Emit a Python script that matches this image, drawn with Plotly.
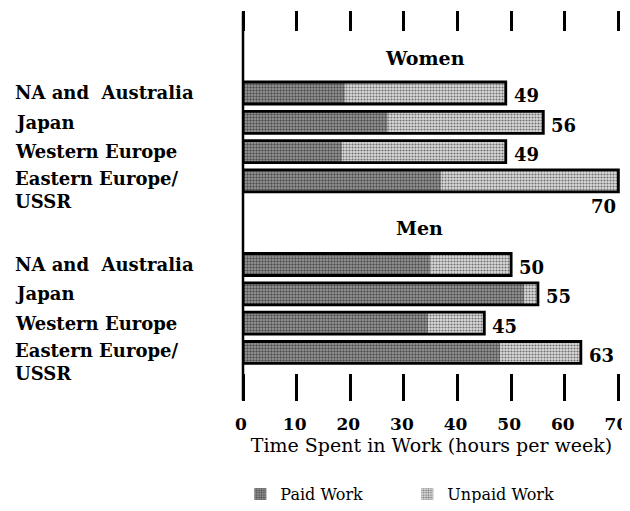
import plotly.graph_objects as go

regions = ["NA and  Australia", "Japan", "Western Europe", "Eastern Europe/<br>USSR"]
groups = ["Women", "Men"]
women_paid = [19, 27, 18.5, 37]
women_unpaid = [30, 29, 30.5, 33]
women_total = [49, 56, 49, 70]
men_paid = [35, 52.5, 34.5, 48]
men_unpaid = [15, 2.5, 10.5, 15]
men_total = [50, 55, 45, 63]
x_ticks = [0, 10, 20, 30, 40, 50, 60, 70]

FONT = "DejaVu Serif"
GROUP_OFFSET = 5.85
X_RANGE = [0, 70.3]

rows_w = [i for i in range(len(regions))]
rows_m = [i + GROUP_OFFSET for i in range(len(regions))]
rows = rows_w + rows_m
paid = women_paid + men_paid
unpaid = women_unpaid + men_unpaid
total = women_total + men_total

fig = go.Figure()
fig.add_trace(go.Bar(
    y=rows, x=paid, orientation="h", name="Paid Work", width=0.75,
    marker=dict(color="#8c8c8c", line=dict(width=0),
                pattern=dict(shape=".", fgcolor="#000000", bgcolor="#a0a0a0", size=3, solidity=0.5)),
))
fig.add_trace(go.Bar(
    y=rows, x=unpaid, base=paid, orientation="h", name="Unpaid Work", width=0.75,
    marker=dict(color="#c8c8c8", line=dict(width=0),
                pattern=dict(shape=".", fgcolor="#000000", bgcolor="#dcdcdc", size=3, solidity=0.4)),
))
fig.add_trace(go.Bar(
    y=rows, x=total, orientation="h", showlegend=False, width=0.75,
    marker=dict(color="rgba(0,0,0,0)", line=dict(color="black", width=2.8)),
    hoverinfo="skip",
))
# invisible trace for top axis
fig.add_trace(go.Scatter(x=[0, 70], y=[0, 0], xaxis="x2", mode="markers",
                         marker=dict(opacity=0), showlegend=False, hoverinfo="skip"))

annotations = []
# row labels
for i, lab in enumerate(regions):
    for r in (rows_w[i], rows_m[i]):
        two = "<br>" in lab
        annotations.append(dict(
            x=-0.61, xref="paper", y=r + (0.31 if two else 0), yref="y",
            text="<b>" + lab + "</b>", showarrow=False, xanchor="left", yanchor="middle",
            align="left", font=dict(family=FONT, size=18, color="black")))
# group headings
annotations.append(dict(x=34, y=-1.19, xref="x", yref="y", text="<b>" + groups[0] + "</b>",
                        showarrow=False, font=dict(family=FONT, size=19, color="black")))
annotations.append(dict(x=33, y=4.6, xref="x", yref="y", text="<b>" + groups[1] + "</b>",
                        showarrow=False, font=dict(family=FONT, size=19, color="black")))
# value labels
for r, t in zip(rows, total):
    if t >= 70:
        annotations.append(dict(x=t, y=r + 0.88, xref="x", yref="y", text="<b>%d</b>" % t,
                                showarrow=False, xanchor="right", yanchor="middle",
                                font=dict(family=FONT, size=18, color="black")))
    else:
        annotations.append(dict(x=t, y=r, xref="x", yref="y", text="<b>%d</b>" % t,
                                showarrow=False, xanchor="left", yanchor="middle", xshift=6, yshift=-3,
                                font=dict(family=FONT, size=18, color="black")))

# the page body has an 8px default margin, so the figure is made smaller to fit the window
fig.update_layout(
    width=622, height=495,
    margin=dict(l=235, r=10, t=24, b=130, autoexpand=False),
    paper_bgcolor="white", plot_bgcolor="white",
    barmode="overlay",
    showlegend=True,
    legend=dict(orientation="h", x=-0.007, xanchor="left", y=-0.355, yanchor="middle",
                font=dict(family=FONT, size=16, color="black"),
                entrywidth=122, entrywidthmode="pixels"),
    xaxis=dict(range=X_RANGE, tickvals=x_ticks, ticktext=["<b>%d</b>" % v for v in x_ticks],
               ticks="outside", ticklen=27, tickwidth=3, tickcolor="black",
               ticklabelstandoff=9, ticklabelshift=-2, ticklabeloverflow="allow",
               showline=False, showgrid=False, zeroline=False,
               tickfont=dict(family=FONT, size=17, color="black"),
               title=dict(text="Time Spent in Work (hours per week)",
                          font=dict(family=FONT, size=19, color="black"), standoff=2)),
    xaxis2=dict(range=X_RANGE, overlaying="x", side="top", tickvals=x_ticks,
                ticks="outside", ticklen=20, tickwidth=3, tickcolor="black",
                showticklabels=False, showline=False, showgrid=False, zeroline=False),
    yaxis=dict(range=[9.55, -2.08], showticklabels=False, ticks="", showgrid=False,
               zeroline=False, showline=False),
    shapes=[dict(type="line", xref="paper", yref="paper", x0=0, x1=0, y0=-0.079, y1=1.059,
                 line=dict(color="black", width=2.5))],
    annotations=annotations,
)

fig.write_html("out.html")
